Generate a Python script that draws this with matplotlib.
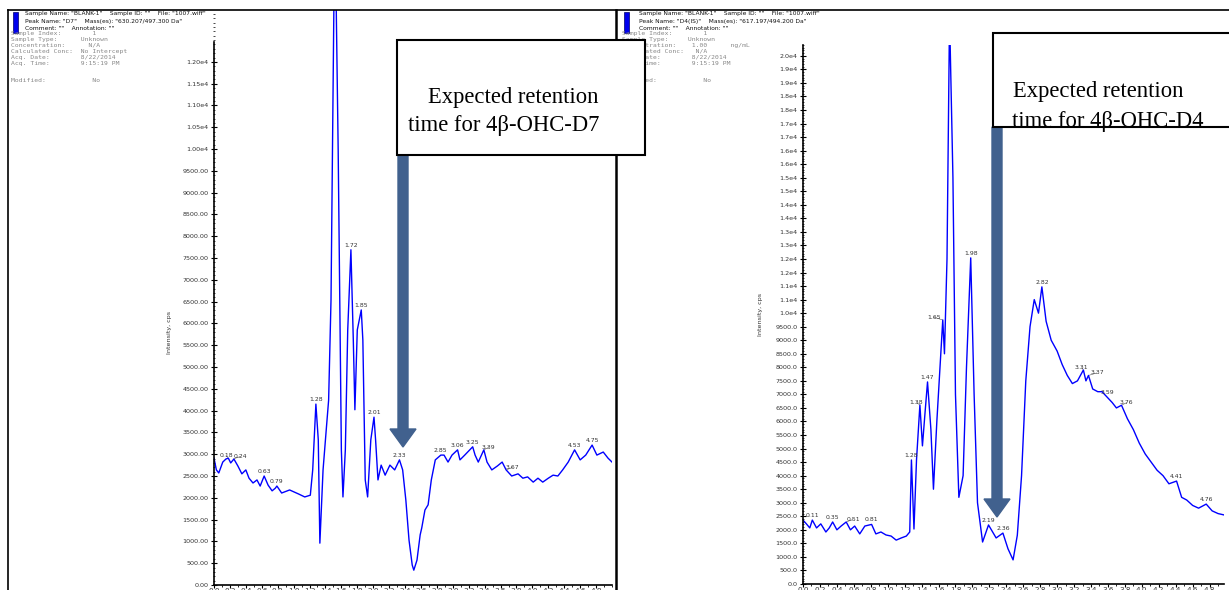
import matplotlib.pyplot as plt
from matplotlib.patches import Rectangle, FancyArrow
from matplotlib.lines import Line2D
from matplotlib.ticker import MultipleLocator, FixedLocator

W, H = 1229, 590

# ---- D7 channel (630.2/497.3) ----
d7_time = [0.00, 0.03, 0.06, 0.11, 0.15, 0.18, 0.21, 0.25, 0.30, 0.35, 0.40, 0.44,
           0.49, 0.54, 0.58, 0.63, 0.68, 0.73, 0.77, 0.79, 0.85, 0.95, 1.06, 1.14,
           1.21, 1.24, 1.28, 1.31, 1.33, 1.37, 1.41, 1.44, 1.47, 1.51, 1.53, 1.56,
           1.60, 1.62, 1.65, 1.68, 1.72, 1.75, 1.77, 1.80, 1.85, 1.87, 1.90, 1.93,
           1.97, 2.01, 2.03, 2.06, 2.10, 2.15, 2.21, 2.27, 2.33, 2.37, 2.41, 2.45,
           2.49, 2.51, 2.55, 2.59, 2.61, 2.65, 2.69, 2.73, 2.78, 2.85, 2.89, 2.94,
           2.99, 3.06, 3.09, 3.15, 3.25, 3.28, 3.32, 3.39, 3.43, 3.49, 3.56, 3.62,
           3.67, 3.74, 3.82, 3.88, 3.94, 4.01, 4.07, 4.13, 4.20, 4.26, 4.32, 4.38,
           4.45, 4.53, 4.60, 4.67, 4.75, 4.81, 4.89, 4.95, 5.00]
d7_intensity = [2910, 2640, 2570, 2820, 2890, 2910, 2800, 2890, 2730, 2550, 2640, 2450,
                2340, 2410, 2270, 2500, 2290, 2160, 2220, 2270, 2110, 2180, 2090, 2020,
                2060, 2640, 4150, 3330, 960, 2640, 3560, 4240, 6540, 14000, 14000, 9980,
                3100, 2020, 3100, 5850, 7690, 5620, 4020, 5850, 6310, 5620, 2410, 2020,
                3330, 3850, 3330, 2410, 2750, 2520, 2750, 2640, 2870, 2640, 1950, 1030,
                460, 340, 570, 1150, 1310, 1720, 1840, 2410, 2870, 2980, 2980, 2820,
                2980, 3100, 2870, 2980, 3170, 2980, 2820, 3100, 2820, 2640, 2730, 2820,
                2640, 2500, 2550, 2450, 2480, 2360, 2450, 2360, 2450, 2520, 2500, 2640,
                2820, 3100, 2870, 2980, 3210, 2980, 3050, 2910, 2820]
d7_peak_time = [0.18, 0.24, 0.63, 0.79, 1.28, 1.72, 1.85, 2.01, 2.33,
                2.85, 3.06, 3.25, 3.39, 3.67, 4.53, 4.75]
d7_peak_height = [2910, 2890, 2500, 2270, 4150, 7690, 6310, 3850, 2870,
                  2980, 3100, 3170, 3100, 2640, 3100, 3210]
d7_label_shift = [-0.03, 0.09, 0, 0, 0, 0, 0, 0, 0,
                  0, 0, 0, 0.06, 0.08, 0, 0]
d7_yticks = list(range(0, 12001, 500))
d7_yticklabels = ["0.00", "500.00", "1000.00", "1500.00", "2000.00", "2500.00",
                  "3000.00", "3500.00", "4000.00", "4500.00", "5000.00", "5500.00",
                  "6000.00", "6500.00", "7000.00", "7500.00", "8000.00", "8500.00",
                  "9000.00", "9500.00", "1.00e4", "1.05e4", "1.10e4", "1.15e4", "1.20e4"]

# ---- D4 channel (617.2/494.2) ----
d4_time = [0.00, 0.04, 0.08, 0.11, 0.16, 0.21, 0.27, 0.31, 0.35, 0.40, 0.45, 0.51,
           0.56, 0.61, 0.67, 0.73, 0.81, 0.86, 0.92, 0.98, 1.04, 1.10, 1.16, 1.22,
           1.26, 1.28, 1.31, 1.34, 1.38, 1.41, 1.44, 1.47, 1.51, 1.54, 1.58, 1.65,
           1.67, 1.70, 1.73, 1.77, 1.80, 1.84, 1.89, 1.93, 1.98, 2.02, 2.06, 2.12,
           2.19, 2.28, 2.36, 2.42, 2.48, 2.53, 2.58, 2.63, 2.68, 2.73, 2.78, 2.82,
           2.87, 2.93, 3.00, 3.06, 3.12, 3.18, 3.24, 3.31, 3.34, 3.37, 3.42, 3.48,
           3.53, 3.59, 3.65, 3.70, 3.76, 3.83, 3.90, 3.97, 4.04, 4.11, 4.18, 4.25,
           4.32, 4.41, 4.47, 4.53, 4.60, 4.67, 4.76, 4.83, 4.90, 4.97]
d4_intensity = [2360, 2220, 2070, 2360, 2070, 2220, 1920, 2070, 2290, 2000, 2140, 2290,
                2000, 2140, 1850, 2140, 2200, 1850, 1920, 1810, 1770, 1620, 1700, 1770,
                1920, 4580, 2030, 4580, 6610, 5100, 6300, 7460, 5700, 3500, 6000, 9750,
                8500, 12000, 21000, 15000, 7000, 3200, 4000, 8000, 12040, 7000, 3000, 1550,
                2180, 1700, 1880, 1300, 890, 1800, 4000, 7500, 9500, 10500, 10000, 10970,
                9700, 9000, 8600, 8100, 7700, 7400, 7500, 7900, 7500, 7700, 7200, 7100,
                7100, 6900, 6700, 6500, 6600, 6100, 5700, 5200, 4800, 4500, 4200, 4000,
                3700, 3800, 3200, 3100, 2900, 2800, 2950, 2700, 2600, 2550]
d4_peak_time = [0.11, 0.35, 0.51, 0.81, 1.28, 1.38, 1.47, 1.65, 1.98,
                2.19, 2.36, 2.82, 3.31, 3.37, 3.59, 3.76, 4.41, 4.76]
d4_peak_height = [2360, 2290, 2290, 2200, 4580, 6610, 7460, 9750, 12040,
                  2180, 1880, 10970, 7900, 7700, 6900, 6600, 3800, 2950]
d4_label_shift = [0, 0, 0.08, 0, 0, -0.04, 0, -0.10, 0,
                  0, 0, 0, -0.02, 0.10, 0, 0.06, 0, 0]
d4_yticks = list(range(0, 19501, 500))
d4_yticklabels = ["0.0", "500.0", "1000.0", "1500.0", "2000.0", "2500.0", "3000.0",
                  "3500.0", "4000.0", "4500.0", "5000.0", "5500.0", "6000.0", "6500.0",
                  "7000.0", "7500.0", "8000.0", "8500.0", "9000.0", "9500.0",
                  "1.0e4", "1.1e4", "1.1e4", "1.2e4", "1.2e4", "1.3e4", "1.3e4",
                  "1.4e4", "1.4e4", "1.5e4", "1.5e4", "1.6e4", "1.6e4", "1.7e4",
                  "1.7e4", "1.8e4", "1.8e4", "1.9e4", "1.9e4", "2.0e4"]

xticks = [i / 5 for i in range(25)]
xticklabels = [f"{t:.1f}" for t in xticks]

d7_header = ['Sample Name: "BLANK-1"    Sample ID: ""    File: "1007.wiff"',
             'Peak Name: "D7"    Mass(es): "630.207/497.300 Da"',
             'Comment: ""    Annotation: ""']
d7_info = [("Sample Index:", "1", 21), ("Sample Type:", "Unknown", 18),
           ("Concentration:", "N/A", 20), ("Calculated Conc:", "No Intercept", 18),
           ("Acq. Date:", "8/22/2014", 18), ("Acq. Time:", "9:15:19 PM", 18),
           ("", "", 0), ("Modified:", "No", 21)]
d4_header = ['Sample Name: "BLANK-1"    Sample ID: ""    File: "1007.wiff"',
             'Peak Name: "D4(IS)"    Mass(es): "617.197/494.200 Da"',
             'Comment: ""    Annotation: ""']
d4_info = [("Sample Index:", "1", 21), ("Sample Type:", "Unknown", 17),
           ("Concentration:", "1.00      ng/mL", 18), ("Calculated Conc:", "N/A", 19),
           ("Acq. Date:", "8/22/2014", 18), ("Acq. Time:", "9:15:19 PM", 18),
           ("", "", 0), ("Modified:", "No", 21)]

fig = plt.figure(figsize=(W / 100, H / 100), dpi=100)


def px(x, y):
    return x / W, 1 - y / H


def chrom_axes(x0, x1, y_top, y_bot, xmax, ymax, top_bound):
    ax = fig.add_axes([x0 / W, 1 - y_bot / H, (x1 - x0) / W, (y_bot - y_top) / H])
    ax.set_xlim(0, xmax)
    ax.set_ylim(0, ymax)
    ax.patch.set_alpha(0)
    for s in ("top", "right"):
        ax.spines[s].set_visible(False)
    ax.spines["left"].set_bounds(0, top_bound)
    ax.spines["left"].set_linewidth(1.2)
    ax.spines["bottom"].set_linewidth(1.2)
    ax.xaxis.set_major_locator(FixedLocator(xticks))
    ax.set_xticklabels(xticklabels)
    ax.xaxis.set_minor_locator(MultipleLocator(0.1))
    ax.yaxis.set_minor_locator(MultipleLocator(100))
    ax.tick_params(axis="x", which="major", length=2.2, width=0.8, labelsize=5.2, pad=0.3)
    ax.tick_params(axis="x", which="minor", length=1.2, width=0.6)
    ax.tick_params(axis="y", which="major", direction="inout", length=4, width=0.8,
                   labelsize=4.6, pad=2)
    ax.tick_params(axis="y", which="minor", direction="inout", length=2, width=0.5)
    for lab in ax.get_xticklabels() + ax.get_yticklabels():
        lab.set_color("#333333")
    return ax


def header(x_rect, x_text, x_info, lines, info):
    fig.add_artist(Rectangle(px(x_rect, 33), 5 / W, 21 / H, transform=fig.transFigure,
                             facecolor="#0000ee", edgecolor="#000066", lw=0.5))
    for i, s in enumerate(lines):
        x, y = px(x_text, 14 + 7 * i)
        fig.text(x, y, s, fontsize=4.3, color="#111111", va="center",
                 family="DejaVu Sans")
    for i, (label, value, col) in enumerate(info):
        if not label:
            continue
        x, y = px(x_info, 33 + 6 * i + (6 if i > 6 else 0))
        fig.text(x, y, label.ljust(col) + value, fontsize=4.6, color="#888888",
                 va="center", family="DejaVu Sans Mono")


def peak_labels(ax, times, heights, shifts):
    for t, h, dx in zip(times, heights, shifts):
        if dx:
            ax.annotate(f"{t:.2f}", (t, h), xytext=(t + dx, h), textcoords="data",
                        ha="center", va="bottom", fontsize=4.4, color="#333333",
                        arrowprops=dict(arrowstyle="-", lw=0.4, color="#555555",
                                        shrinkA=0, shrinkB=0.5))
        else:
            ax.annotate(f"{t:.2f}", (t, h), xytext=(0, 1.5), textcoords="offset points",
                        ha="center", va="bottom", fontsize=4.4, color="#333333")


# left chromatogram
ax1 = chrom_axes(214, 612, 10, 585, 5.0, 13190, 12450)
ax1.plot(d7_time, d7_intensity, color="#0000ff", lw=1.0)
ax1.set_yticks(d7_yticks)
ax1.set_yticklabels(d7_yticklabels)
peak_labels(ax1, d7_peak_time, d7_peak_height, d7_label_shift)
ax1.set_ylabel("Intensity, cps", fontsize=4.6, color="#333333")
ax1.yaxis.set_label_coords(-0.105, 0.44)

# right chromatogram
ax2 = chrom_axes(803, 1224, 45, 584, 4.97, 19900, 19900)
ax2.plot(d4_time, d4_intensity, color="#0000ff", lw=1.0)
ax2.set_yticks(d4_yticks)
ax2.set_yticklabels(d4_yticklabels)
peak_labels(ax2, d4_peak_time, d4_peak_height, d4_label_shift)
ax2.set_ylabel("Intensity, cps", fontsize=4.6, color="#333333")
ax2.yaxis.set_label_coords(-0.095, 0.5)

header(13, 25, 11, d7_header, d7_info)
header(624, 639, 622, d4_header, d4_info)

# frame lines
for xs, ys, lw in [((8, 1229), (10, 10), 1.2), ((8, 8), (10, 590), 1.2),
                   ((616, 616), (10, 590), 1.8)]:
    fig.add_artist(Line2D([xs[0] / W, xs[1] / W], [1 - ys[0] / H, 1 - ys[1] / H],
                          transform=fig.transFigure, color="black", lw=lw))

# callout boxes and arrows
arrow_color = "#41618e"
callouts = [
    ((397, 40, 645, 155), [("Expected retention", 428, 97), ("time for 4β-OHC-D7", 408, 126)],
     (403, 155, 447)),
    ((993, 33, 1235, 127), [("Expected retention", 1013, 92), ("time for 4β-OHC-D4", 1012, 121)],
     (997, 127, 517)),
]
for (bx0, by0, bx1, by1), lines, (ax_x, ay0, ay1) in callouts:
    fig.add_artist(Rectangle(px(bx0, by1), (bx1 - bx0) / W, (by1 - by0) / H,
                             transform=fig.transFigure, facecolor="white",
                             edgecolor="black", lw=1.5, zorder=5))
    for s, tx, ty in lines:
        x, y = px(tx, ty)
        fig.text(x, y, s, fontsize=16.3, family="Liberation Serif", va="center",
                 ha="left", zorder=6)
    fig.add_artist(FancyArrow(ax_x / 100, (H - ay0) / 100, 0, -(ay1 - ay0) / 100,
                              width=0.10, head_width=0.26, head_length=0.18,
                              length_includes_head=True, transform=fig.dpi_scale_trans,
                              color=arrow_color, zorder=4))

fig.savefig("out.png", dpi=100)
